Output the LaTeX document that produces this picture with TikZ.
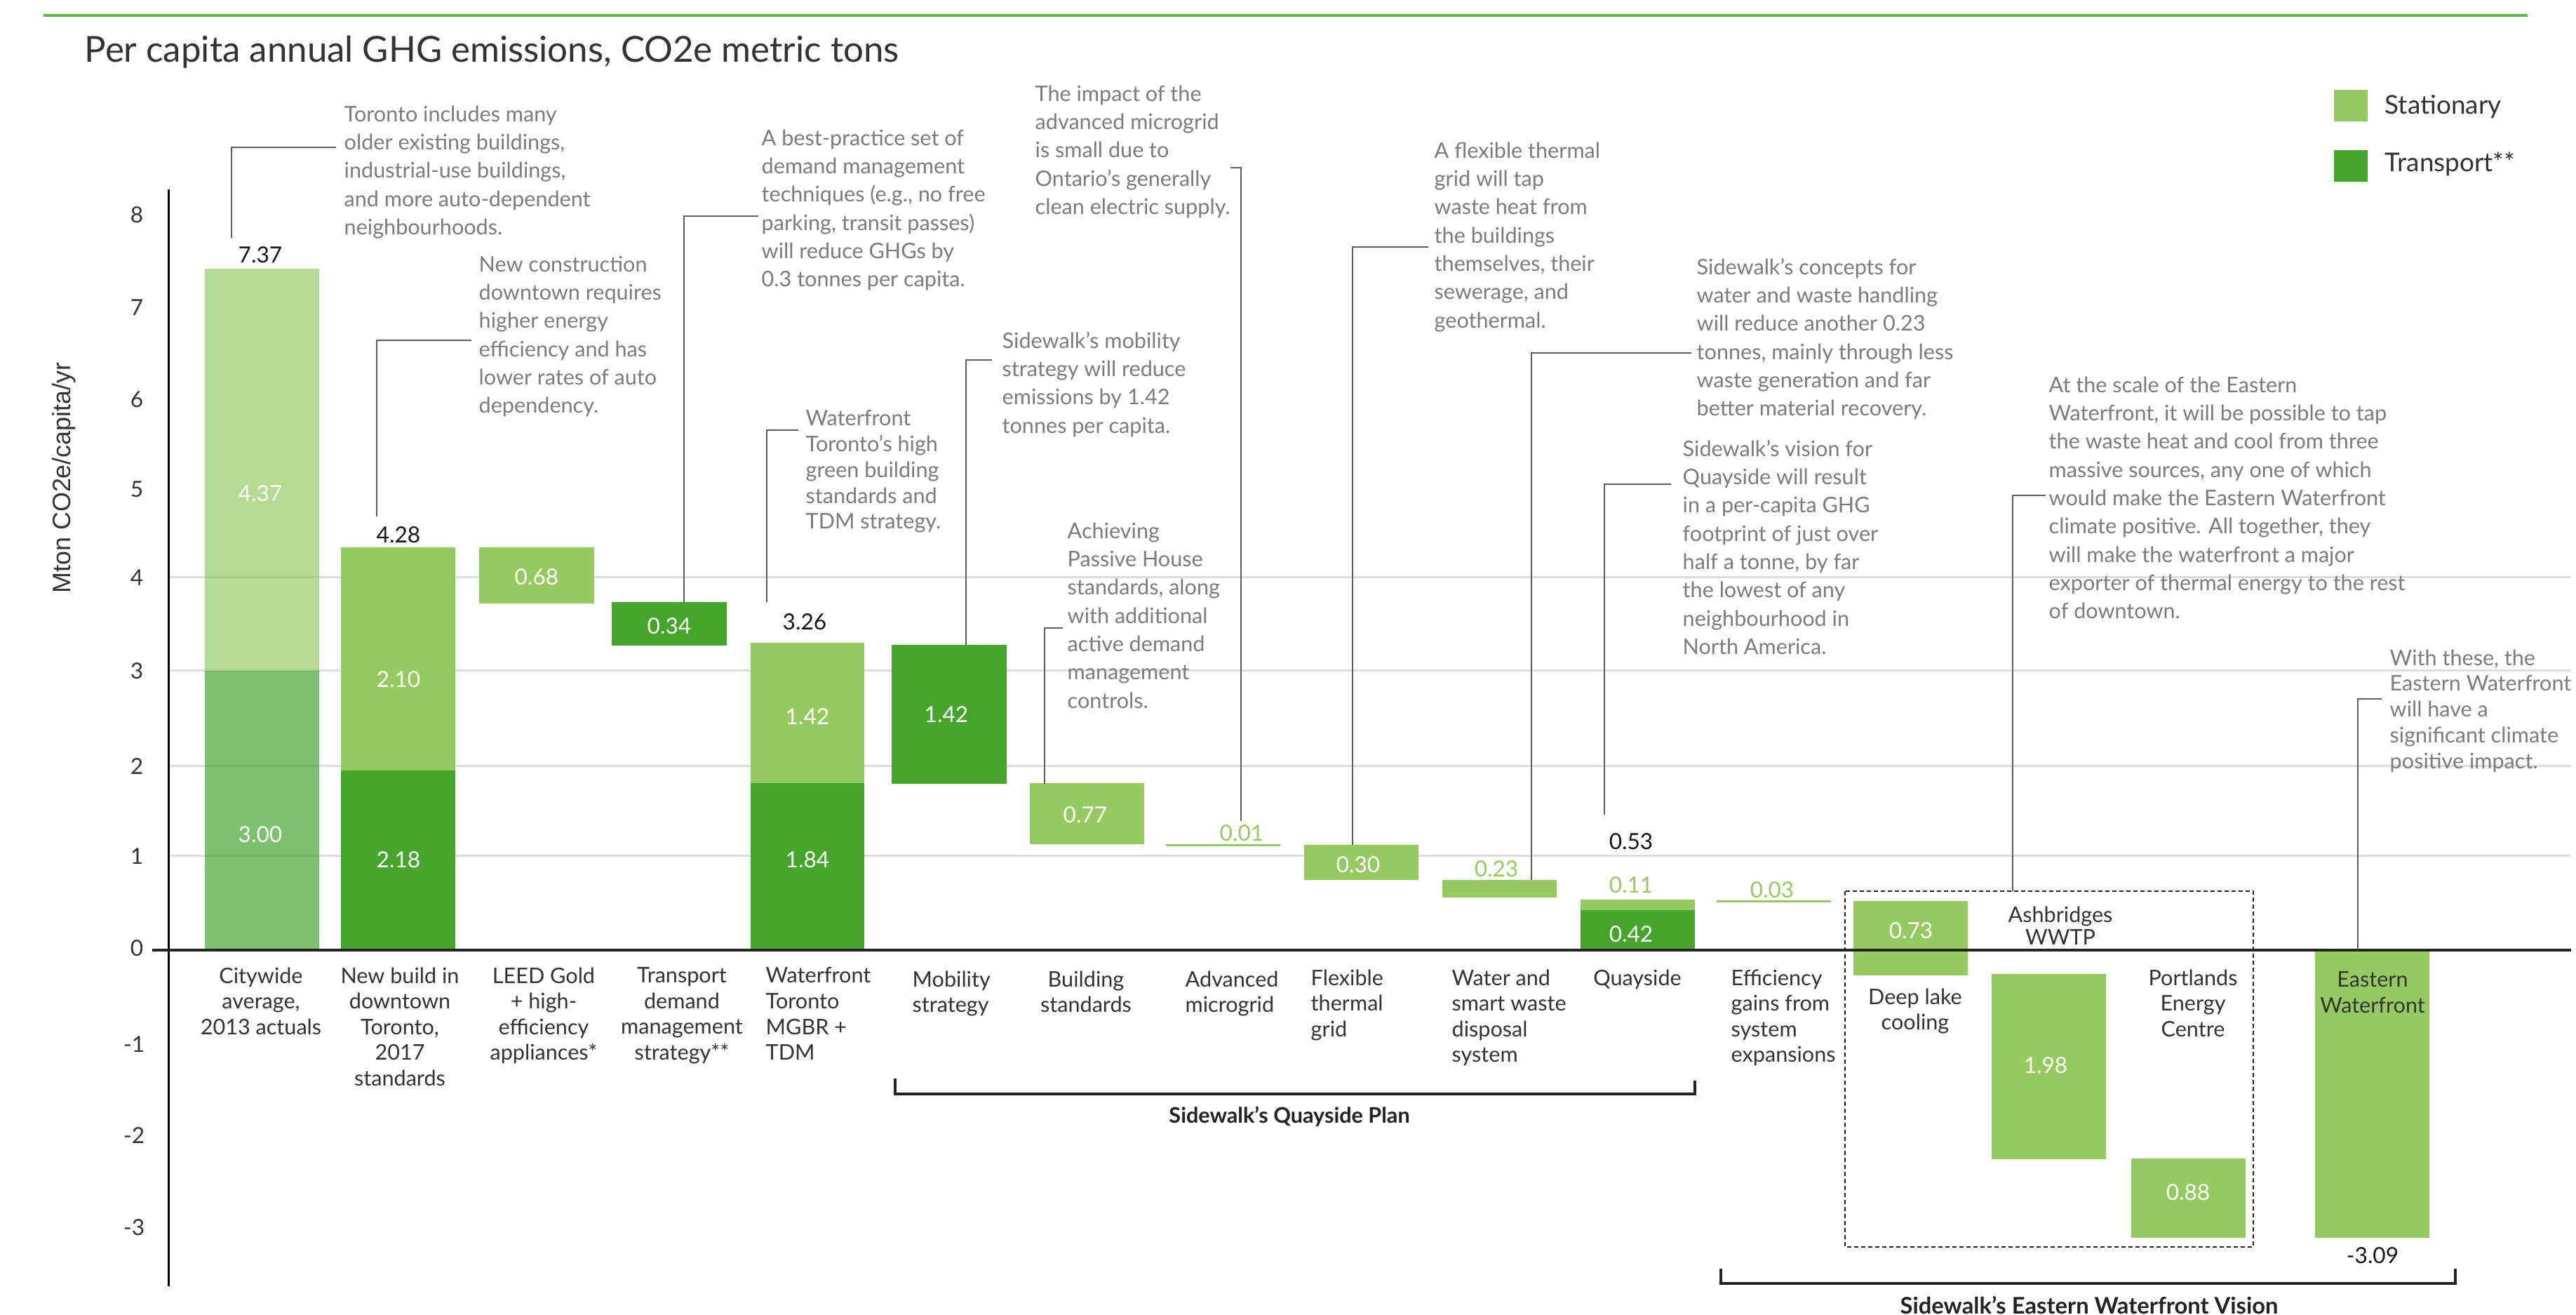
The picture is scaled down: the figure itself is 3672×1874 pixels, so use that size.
\documentclass[tikz,border=0pt]{standalone}
\usepackage{fontspec}
\setmainfont{Lato}
\newfontfamily\axisfont{Liberation Sans}
\definecolor{stat}{HTML}{95CA61}
\definecolor{trans}{HTML}{46A52B}
\definecolor{cityL}{HTML}{B4DB91}
\definecolor{cityD}{HTML}{7DC06E}
\definecolor{annoc}{HTML}{7C7C7C}
\definecolor{conncol}{HTML}{5E5E5E}
\definecolor{gridcol}{HTML}{DEDEDE}
\definecolor{topline}{HTML}{5DB847}
\definecolor{catcol}{HTML}{333333}
\definecolor{valcol}{HTML}{151515}
\definecolor{brcol}{HTML}{222222}
\newcommand\fAnn{\fontsize{8.7pt}{11.47pt}\selectfont}
\newcommand\fAnnT{\fontsize{8.7pt}{10.45pt}\selectfont}
\newcommand\fCat{\fontsize{8.7pt}{10.4pt}\selectfont}
\newcommand\fCatT{\fontsize{8.7pt}{9.3pt}\selectfont}
\newcommand\fVal{\fontsize{9pt}{11pt}\selectfont}
\newcommand\fTick{\fontsize{9pt}{11pt}\selectfont}
\newcommand\fTitle{\fontsize{14.5pt}{17pt}\selectfont}
\newcommand\fBr{\fontsize{8.7pt}{10pt}\selectfont\bfseries}
\newcommand\fBrE{\fontsize{9.3pt}{11pt}\selectfont\bfseries}
\newcommand\fLeg{\fontsize{10.5pt}{12pt}\selectfont}
\newcommand\fAx{\axisfont\fontsize{10.2pt}{12pt}\selectfont}
\begin{document}
\begin{tikzpicture}[x=0.01cm,y=-0.01cm,
  anno/.style={font=\fAnn, text=annoc, align=left, inner sep=0pt, anchor=north west},
  annotight/.style={anno, font=\fAnnT},
  catc/.style={font=\fCat, text=catcol, align=center, inner sep=0pt, anchor=north},
  catl/.style={catc, align=left, anchor=north west},
  vblack/.style={font=\fVal, text=valcol, inner sep=0pt},
  vwhite/.style={font=\fVal, text=white, inner sep=0pt},
  vgreen/.style={font=\fVal, text=stat, inner sep=0pt},
  tick/.style={font=\fTick, text=catcol, inner sep=0pt, anchor=east},
  conn/.style={draw=conncol, line width=0.2mm},
  bracket/.style={draw=brcol, line width=0.4mm},
  brlabel/.style={font=\fBr, text=brcol, inner sep=0pt},
  legtext/.style={font=\fLeg, text=catcol, inner sep=0pt, anchor=west},
  gridline/.style={draw=gridcol, line width=0.3mm}
]
\useasboundingbox (0,0) rectangle (3672,1874);
\fill[white] (0,0) rectangle (3672,1874);

% top rule and title
\draw[topline, line width=0.35mm] (62,22) -- (3603,22);
\node[font=\fTitle, text=catcol, inner sep=0pt, anchor=base west] (title) at (120,89) {Per capita annual GHG emissions, CO2e metric tons};

% grid
\foreach \gy in {823,956,1092,1220} \draw[gridline] (240,\gy) -- (3665,\gy);

% axis title and ticks
\node[font=\fAx, text=catcol, rotate=90, inner sep=0pt] (axtitle) at (91,681) {Mton CO2e/capita/yr};
\node[tick] (t8) at (205,306) {8};
\node[tick] (t7) at (205,438) {7};
\node[tick] (t6) at (205,569) {6};
\node[tick] (t5) at (205,697) {5};
\node[tick] (t4) at (205,823) {4};
\node[tick] (t3) at (205,956) {3};
\node[tick] (t2) at (205,1092) {2};
\node[tick] (t1) at (205,1220) {1};
\node[tick] (t0) at (205,1351) {0};
\node[tick] (tm1) at (207,1488) {-1};
\node[tick] (tm2) at (207,1618) {-2};
\node[tick] (tm3) at (207,1749) {-3};

% bars
\fill[cityL] (292,383) rectangle (455,956);
\fill[cityD] (292,956) rectangle (455,1354);
\foreach \gy in {823,956,1092,1220} \draw[black, opacity=0.06, line width=0.3mm] (292,\gy) -- (455,\gy);
\fill[stat] (486,780) rectangle (649,1098);
\fill[trans] (486,1098) rectangle (649,1354);
\fill[stat] (683,780) rectangle (847,860);
\fill[trans] (872,858) rectangle (1036,920);
\fill[stat] (1070,916) rectangle (1232,1116);
\fill[trans] (1070,1116) rectangle (1232,1354);
\fill[trans] (1271,919) rectangle (1435,1117);
\fill[stat] (1468,1116) rectangle (1631,1203);
\fill[stat] (1662,1203.5) rectangle (1825,1206.5);
\fill[stat] (1859,1204) rectangle (2022,1254);
\fill[stat] (2056,1254) rectangle (2219,1279);
\fill[stat] (2253,1282) rectangle (2416,1297);
\fill[trans] (2253,1297) rectangle (2416,1354);
\fill[stat] (2447,1283.5) rectangle (2610,1286.5);
\fill[stat] (2642,1284) rectangle (2805,1390);
\fill[stat] (2839,1388) rectangle (3002,1652);
\fill[stat] (3038,1651) rectangle (3201,1764);
\fill[stat] (3300,1354) rectangle (3463,1764);

% dashed box
\draw[brcol, line width=0.2mm, dash pattern=on 0.6mm off 0.4mm] (2630,1270) rectangle (3212,1777);

% axes
\draw[black, line width=0.3mm] (240,270) -- (240,1833);
\draw[brcol, line width=0.45mm] (217,1354) -- (3665,1354);

% values
\node[vblack] (v1) at (371,363) {7.37};
\node[vblack] (v2) at (568,762) {4.28};
\node[vblack] (v5) at (1147,886) {3.26};
\node[vblack] (v11) at (2325,1199) {0.53};
\node[vblack] (v16) at (3382,1789) {-3.09};
\node[vwhite] (w1a) at (371,703) {4.37};
\node[vwhite] (w1b) at (371,1189) {3.00};
\node[vwhite] (w2a) at (568,968) {2.10};
\node[vwhite] (w2b) at (568,1225) {2.18};
\node[vwhite] (w3) at (765,822) {0.68};
\node[vwhite] (w4) at (954,892) {0.34};
\node[vwhite] (w5a) at (1151,1021) {1.42};
\node[vwhite] (w5b) at (1151,1225) {1.84};
\node[vwhite] (w6) at (1349,1018) {1.42};
\node[vwhite] (w7) at (1547,1161) {0.77};
\node[vwhite] (w9) at (1936,1232) {0.30};
\node[vwhite] (w11) at (2325,1331) {0.42};
\node[vwhite] (w13) at (2724,1326) {0.73};
\node[vwhite] (w14) at (2916,1518) {1.98};
\node[vwhite] (w15) at (3119,1699) {0.88};
\node[vgreen] (g8) at (1770,1187) {0.01};
\node[vgreen] (g10) at (2133,1238) {0.23};
\node[vgreen] (g11) at (2325,1261) {0.11};
\node[vgreen] (g12) at (2526,1268) {0.03};

% category labels
\node[catc] (c1) at (372,1378) {Citywide\\average,\\2013 actuals};
\node[catc] (c2) at (570,1378) {New build in\\downtown\\Toronto,\\2017\\standards};
\node[catc] (c3) at (775,1378) {LEED Gold\\+ high-\\efficiency\\appliances*};
\node[catc] (c4) at (972,1378) {Transport\\demand\\management\\strategy**};
\node[catl] (c5) at (1091,1378) {Waterfront\\Toronto\\MGBR +\\TDM};
\node[catl] (c6) at (1300,1383) {Mobility\\strategy};
\node[catc] (c7) at (1548,1383) {Building\\standards};
\node[catl] (c8) at (1689,1383) {Advanced\\microgrid};
\node[catl] (c9) at (1868,1381) {Flexible\\thermal\\grid};
\node[catl] (c10) at (2069,1381) {Water and\\smart waste\\disposal\\system};
\node[catc] (c11) at (2334,1381) {Quayside};
\node[catl] (c12) at (2467,1381) {Efficiency\\gains from\\system\\expansions};
\node[catc] (c13) at (2730,1408) {Deep lake\\cooling};
\node[catc, font=\fCatT] (c14) at (2937,1291) {Ashbridges\\WWTP};
\node[catc] (c15) at (3126,1381) {Portlands\\Energy\\Centre};
\node[catc] (c16) at (3382,1384) {Eastern\\Waterfront};

% annotations
\node[anno] (a1) at (490,150) {Toronto includes many\\older existing buildings,\\industrial-use buildings,\\and more auto-dependent\\neighbourhoods.};
\node[anno] (a2) at (682,364) {New construction\\downtown requires\\higher energy\\efficiency and has\\lower rates of auto\\dependency.};
\node[anno] (a3) at (1085,184) {A best-practice set of\\demand management\\techniques (e.g., no free\\parking, transit passes)\\will reduce GHGs by\\0.3 tonnes per capita.};
\node[annotight] (a4) at (1148,584) {Waterfront\\Toronto's high\\green building\\standards and\\TDM strategy.};
\node[anno] (a5) at (1428,472) {Sidewalk's mobility\\strategy will reduce\\emissions by 1.42\\tonnes per capita.};
\node[anno] (a6) at (1475,121) {The impact of the\\advanced microgrid\\is small due to\\Ontario's generally\\clean electric supply.};
\node[anno] (a7) at (1521,744) {Achieving\\Passive House\\standards, along\\with additional\\active demand\\management\\controls.};
\node[anno] (a8) at (2044,202) {A flexible thermal\\grid will tap\\waste heat from\\the buildings\\themselves, their\\sewerage, and\\geothermal.};
\node[anno] (a9) at (2418,367) {Sidewalk's concepts for\\water and waste handling\\will reduce another 0.23\\tonnes, mainly through less\\waste generation and far\\better material recovery.};
\node[anno] (a10) at (2398,626) {Sidewalk's vision for\\Quayside will result\\in a per-capita GHG\\footprint of just over\\half a tonne, by far\\the lowest of any\\neighbourhood in\\North America.};
\node[anno] (a11) at (2920,536) {At the scale of the Eastern\\Waterfront, it will be possible to tap\\the waste heat and cool from three\\massive sources, any one of which\\would make the Eastern Waterfront\\climate positive. All together, they\\will make the waterfront a major\\exporter of thermal energy to the rest\\of downtown.};
\node[annotight] (a12) at (3406,925) {With these, the\\Eastern Waterfront\\will have a\\significant climate\\positive impact.};

% connector end points
\coordinate (s1) at (330,339);   \coordinate (e1) at (479,210);
\coordinate (s2) at (537,736);   \coordinate (e2) at (672,485);
\coordinate (s3) at (975,858);   \coordinate (e3) at (1081,308);
\coordinate (s4) at (1093,858);  \coordinate (e4) at (1138,613);
\coordinate (s5) at (1377,919);  \coordinate (e5) at (1414,513);
\coordinate (s6) at (1769,1170); \coordinate (e6) at (1754,239);
\coordinate (s7) at (1489,1117); \coordinate (e7) at (1515,895);
\coordinate (s8) at (1928,1204); \coordinate (e8) at (2036,352);
\coordinate (s9) at (2183,1254); \coordinate (e9) at (2411,503);
\coordinate (s10) at (2287,1161); \coordinate (e10) at (2382,690);
\coordinate (s11) at (2869,1270); \coordinate (e11) at (2916,706);
\coordinate (s12) at (3361,1354); \coordinate (e12) at (3395,996);
\foreach \i in {1,...,12} \draw[conn] (s\i) |- (e\i);

% brackets
\draw[bracket] (1276,1537) -- (1276,1559) -- (2416,1559) -- (2416,1540);
\node[brlabel] (bq) at (1838,1591) {Sidewalk's Quayside Plan};
\draw[bracket] (2453,1808) -- (2453,1829) -- (3500,1829) -- (3500,1808);
\node[brlabel, font=\fBrE] (be) at (2978,1860) {Sidewalk's Eastern Waterfront Vision};

% legend
\fill[stat] (3327,128) rectangle (3375,173);
\fill[trans] (3327,214) rectangle (3375,259);
\node[legtext] (ls) at (3399,152) {Stationary};
\node[legtext] (lt) at (3399,234) {Transport**};
\end{tikzpicture}
\end{document}
